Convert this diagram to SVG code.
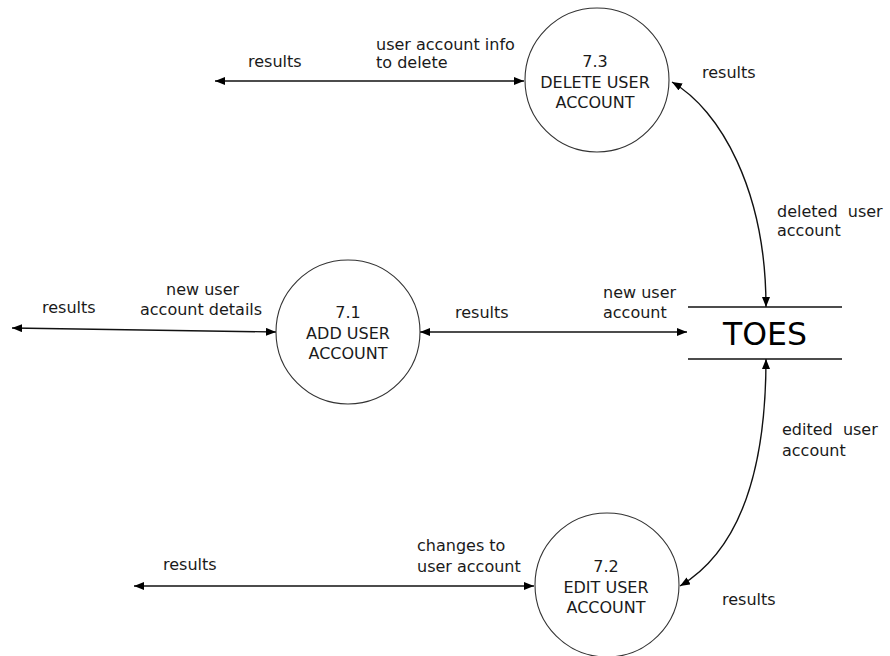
<svg xmlns="http://www.w3.org/2000/svg" width="890" height="656" viewBox="0 0 890 656">
<style>
  text { font-family: "DejaVu Sans", Verdana, sans-serif; font-size: 16px; fill: #1a1a1a; white-space: pre; }
  .c { text-anchor: middle; }
  .proc { fill: #fff; stroke: #333; stroke-width: 1.1; }
  .flow { fill: none; stroke: #111; stroke-width: 1.4; marker-start: url(#ah); marker-end: url(#ah); }
  .store { stroke: #111; stroke-width: 1.4; }
  .big { font-size: 31.5px; fill: #000; }
</style>
<defs>
  <marker id="ah" viewBox="0 0 10 8" refX="10" refY="4" markerWidth="10" markerHeight="8" markerUnits="userSpaceOnUse" orient="auto-start-reverse">
    <path d="M0 0 L10 4 L0 8 Z" fill="#000"/>
  </marker>
</defs>
<rect width="890" height="656" fill="#fff"/>

<g id="connectors">
  <line class="flow" x1="215" y1="81" x2="524" y2="81"/>
  <line class="flow" x1="12" y1="328" x2="276" y2="332"/>
  <line class="flow" x1="420" y1="332" x2="687" y2="332"/>
  <line class="flow" x1="134" y1="586" x2="534" y2="586"/>
  <path class="flow" d="M 672 82 C 720 110, 766 190, 766 307"/>
  <path class="flow" d="M 766 359 C 766 470, 740 550, 680 586"/>
</g>

<g id="labels">
  <text x="248" y="67">results</text>
  <text x="376" y="50">user account info</text>
  <text x="376" y="68">to delete</text>
  <text x="702" y="78">results</text>
  <text x="777" y="217">deleted  user</text>
  <text x="777" y="236">account</text>
  <text x="42" y="313">results</text>
  <text x="166" y="295">new user</text>
  <text x="140" y="315">account details</text>
  <text x="455" y="318">results</text>
  <text x="603" y="298">new user</text>
  <text x="603" y="318">account</text>
  <text x="782" y="435">edited  user</text>
  <text x="782" y="456">account</text>
  <text x="163" y="570">results</text>
  <text x="417" y="551">changes to</text>
  <text x="417" y="572">user account</text>
  <text x="722" y="605">results</text>
</g>

<g id="p73">
  <circle class="proc" cx="597" cy="80" r="72"/>
  <text class="c" x="595" y="67">7.3</text>
  <text class="c" x="595" y="88">DELETE USER</text>
  <text class="c" x="595" y="108">ACCOUNT</text>
</g>

<g id="p71">
  <circle class="proc" cx="348" cy="332" r="72"/>
  <text class="c" x="348" y="318">7.1</text>
  <text class="c" x="348" y="339">ADD USER</text>
  <text class="c" x="348" y="359">ACCOUNT</text>
</g>

<g id="p72">
  <circle class="proc" cx="607" cy="585" r="72"/>
  <text class="c" x="606" y="572">7.2</text>
  <text class="c" x="606" y="593">EDIT USER</text>
  <text class="c" x="606" y="613">ACCOUNT</text>
</g>

<g id="toes">
  <line class="store" x1="688" y1="307" x2="842" y2="307"/>
  <line class="store" x1="688" y1="359" x2="842" y2="359"/>
  <text class="c big" x="765" y="345">TOES</text>
</g>
</svg>
